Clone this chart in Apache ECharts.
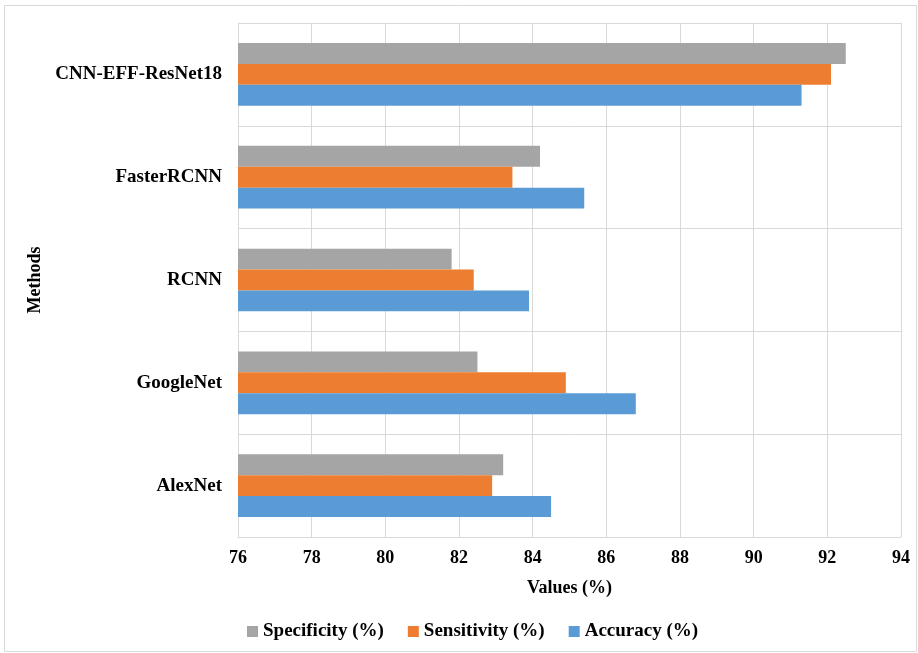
<!DOCTYPE html>
<html>
<head>
<meta charset="utf-8">
<script src="https://cdn.jsdelivr.net/npm/echarts@6/dist/echarts.min.js"></script>
<style>
  html, body { margin: 0; padding: 0; background: #fff; }
  #chart { width: 918px; height: 653px; }
</style>
</head>
<body>
<div id="chart"></div>
<script>
// Methods, listed bottom to top along the category axis
const methods = ['AlexNet', 'GoogleNet', 'RCNN', 'FasterRCNN', 'CNN-EFF-ResNet18'];
const specificity = [83.2, 82.5, 81.8, 84.2, 92.5];
const sensitivity = [82.9, 84.9, 82.4, 83.45, 92.1];
const accuracy    = [84.5, 86.8, 83.9, 85.4, 91.3];
const seriesNames = ['Specificity (%)', 'Sensitivity (%)', 'Accuracy (%)'];

const font = 'Liberation Serif, Times New Roman, serif';
const gridColor = '#d9d9d9';

const chart = echarts.init(document.getElementById('chart'), null, { renderer: 'canvas' });
chart.setOption({
  animation: false,
  backgroundColor: '#fff',
  color: ['#a5a5a5', '#ed7d31', '#5b9bd5'],
  graphic: [{
    type: 'rect',
    shape: { x: 4.5, y: 5.5, width: 912, height: 646 },
    style: { fill: 'none', stroke: '#d9d9d9', lineWidth: 1 },
    silent: true
  }],
  grid: { left: 238, right: 17, top: 23, bottom: 116 },
  legend: {
    data: seriesNames,
    bottom: 7,
    left: 242,
    itemWidth: 11,
    itemHeight: 11,
    itemGap: 24,
    icon: 'rect',
    textStyle: { fontFamily: font, fontWeight: 'bold', fontSize: 19, color: '#000' }
  },
  xAxis: {
    type: 'value',
    min: 76,
    max: 94,
    interval: 2,
    name: 'Values (%)',
    nameLocation: 'middle',
    nameGap: 42,
    nameTextStyle: { fontFamily: font, fontWeight: 'bold', fontSize: 18, color: '#000' },
    axisLine: { show: false },
    axisTick: { show: false },
    axisLabel: { fontFamily: font, fontWeight: 'bold', fontSize: 18, color: '#000', margin: 12 },
    splitLine: { show: true, lineStyle: { color: gridColor, width: 1 } }
  },
  yAxis: {
    type: 'category',
    data: methods,
    name: 'Methods',
    nameLocation: 'middle',
    nameGap: 178,
    nameRotate: 90,
    nameTextStyle: { fontFamily: font, fontWeight: 'bold', fontSize: 18, color: '#000' },
    axisLine: { show: true, lineStyle: { color: gridColor } },
    axisTick: { show: false },
    axisLabel: { fontFamily: font, fontWeight: 'bold', fontSize: 19, color: '#000', margin: 16 },
    splitLine: { show: true, lineStyle: { color: gridColor, width: 1 } }
  },
  series: [specificity, sensitivity, accuracy].map((vals, i) => ({
    name: seriesNames[i],
    type: 'bar',
    data: vals,
    barGap: '0%',
    barCategoryGap: '39%'
  }))
});
</script>
</body>
</html>
